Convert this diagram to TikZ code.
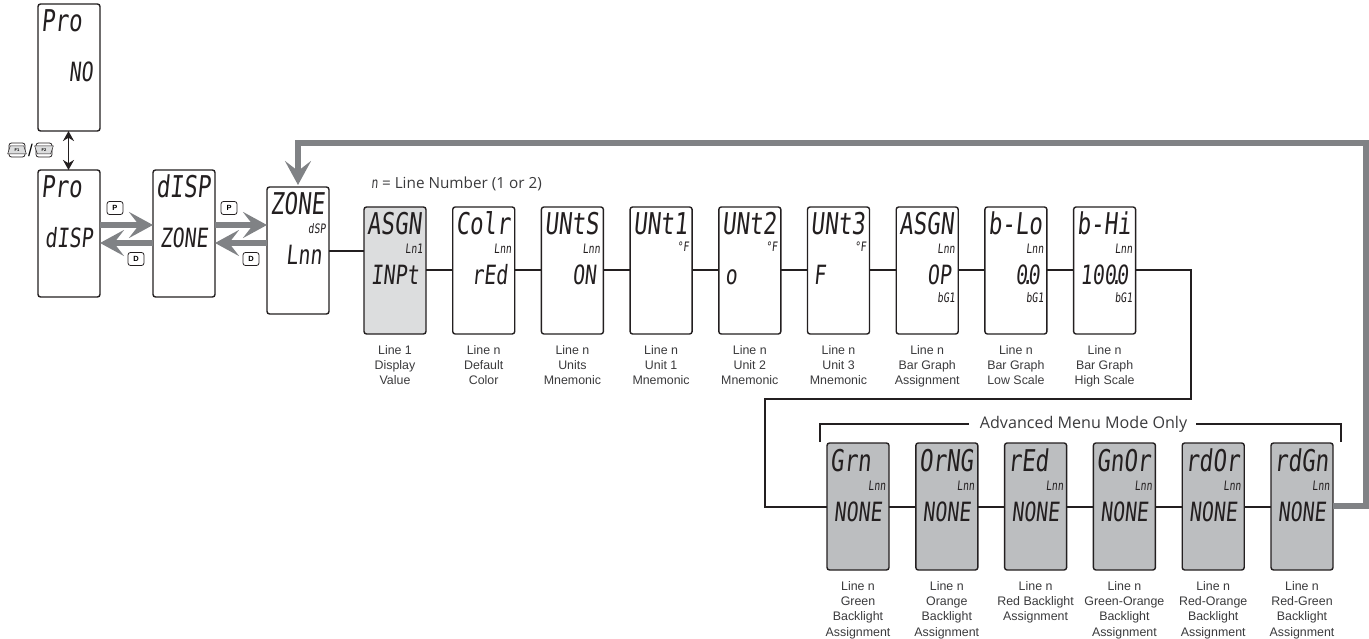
\documentclass[tikz,border=0pt]{standalone}
\usepackage{fontspec}
\setmainfont{Liberation Sans}
\newfontfamily\lcdfont[FakeSlant=0.1,FakeStretch=0.75]{DejaVu Sans Mono}
\newfontfamily\notefont{Open Sans}
\usetikzlibrary{shapes.geometric,arrows.meta,positioning,calc}
\definecolor{ShadeLight}{HTML}{DCDDDE}
\definecolor{ShadeDark}{HTML}{BCBEC0}
\definecolor{FlowGray}{HTML}{808285}
\definecolor{InkBlack}{HTML}{231F20}
\definecolor{CaptionGray}{HTML}{3A3A3C}
\newcommand{\dpt}{\kern-.22em.\kern-.22em}

\begin{document}
\begin{tikzpicture}[x=1pt,y=-1pt,
    panel/.style={draw=InkBlack, fill=white, line width=1.4pt, rounded corners=2.5pt, minimum width=62pt, minimum height=127pt, inner sep=0pt, outer sep=0pt},
    lcdtop/.style={anchor=base west, font=\lcdfont\fontsize{30}{30}\selectfont, text=InkBlack, inner sep=0pt, xshift=3pt, yshift=-28pt},
    lcdlow/.style={anchor=base east, font=\lcdfont\fontsize{26.5}{30}\selectfont, text=InkBlack, inner sep=0pt, xshift=-7pt, yshift=-78pt},
    lcdleft/.style={anchor=base west, font=\lcdfont\fontsize{26.5}{30}\selectfont, text=InkBlack, inner sep=0pt, xshift=6pt, yshift=-78pt},
    lcdtag/.style={anchor=base east, font=\lcdfont\fontsize{13}{13}\selectfont, text=InkBlack, inner sep=0pt, xshift=-3pt, yshift=-47pt},
    lcdbar/.style={anchor=base east, font=\lcdfont\fontsize{13}{13}\selectfont, text=InkBlack, inner sep=0pt, xshift=-3pt, yshift=-95pt},
    caption/.style={below=11.5pt, font=\fontsize{12.4}{15.2}\selectfont, text=CaptionGray, align=center, inner sep=0pt, outer sep=0pt},
    keycap/.style={draw=InkBlack, fill=white, line width=.8pt, rounded corners=2.5pt, minimum width=16pt, minimum height=13pt, inner sep=0pt, font=\bfseries\fontsize{7.5}{7.5}\selectfont},
    fkey/.style={draw=InkBlack, fill=white, line width=.8pt, rounded corners=2.5pt, minimum width=16pt, minimum height=14pt, inner sep=0pt},
    fshape/.style={trapezium, draw=InkBlack, fill=ShadeLight, line width=.5pt, trapezium left angle=72, trapezium right angle=72, minimum height=8pt, inner sep=0pt, font=\bfseries\fontsize{4}{4}\selectfont},
    wire/.style={draw=InkBlack, line width=1.3pt},
    flow/.style={draw=FlowGray, line width=6.5pt, -{Stealth[length=24pt,width=26pt,inset=10pt]}}
  ]
    \useasboundingbox (0,0) rectangle (1369,639);

    % Programming mode column
    \node[panel, anchor=north west] (pro) at (38,4) {};
    \node[lcdtop] (protop) at (pro.north west) {Pro};
    \node[lcdlow] (prolow) at (pro.north east) {NO};
    \node[panel, anchor=north west] (disp) at (38,170) {};
    \node[lcdtop] (disptop) at (disp.north west) {Pro};
    \node[lcdlow] (displow) at (disp.north east) {dISP};
    \node[panel, right=53pt of disp] (zone) {};
    \node[lcdtop] (zonetop) at (zone.north west) {dISP};
    \node[lcdlow] (zonelow) at (zone.north east) {ZONE};
    \node[panel, anchor=north west] (line) at (267,187) {};
    \node[lcdtop] (linetop) at (line.north west) {ZONE};
    \node[lcdtag] (linetag) at (line.north east) {dSP};
    \node[lcdlow] (linelow) at (line.north east) {Lnn};

    % Row 1: Line parameters
    \node[panel, fill=ShadeLight, anchor=north west] (r1) at (364,207) {};
    \node[panel, right=26.7pt of r1] (r2) {};
    \node[panel, right=26.7pt of r2] (r3) {};
    \node[panel, right=26.7pt of r3] (r4) {};
    \node[panel, right=26.7pt of r4] (r5) {};
    \node[panel, right=26.7pt of r5] (r6) {};
    \node[panel, right=26.7pt of r6] (r7) {};
    \node[panel, right=26.7pt of r7] (r8) {};
    \node[panel, right=26.7pt of r8] (r9) {};
    \foreach \p/\t in {r1/ASGN,r2/Colr,r3/UNtS,r4/UNt1,r5/UNt2,r6/UNt3,r7/ASGN,r8/b-Lo,r9/b-Hi}
      \node[lcdtop] (\p top) at (\p.north west) {\t};
    \foreach \p/\t in {r1/INPt,r2/rEd,r3/ON,r7/OP,r8/0\dpt 0,r9/100\dpt 0}
      \node[lcdlow] (\p low) at (\p.north east) {\t};
    \foreach \p/\t in {r1/Ln1,r2/Lnn,r3/Lnn,r7/Lnn,r8/Lnn,r9/Lnn}
      \node[lcdtag] (\p tag) at (\p.north east) {\t};
    \foreach \p in {r4,r5,r6}
      \node[lcdtag, yshift=2pt] (\p tag) at (\p.north east) {°F};
    \foreach \p in {r7,r8,r9}
      \node[lcdbar] (\p bar) at (\p.north east) {bG1};
    \node[lcdleft] (r5low) at (r5.north west) {o};
    \node[lcdleft] (r6low) at (r6.north west) {F};

    % Row 2: Backlight assignments
    \node[panel, fill=ShadeDark, anchor=north west] (b1) at (827,443) {};
    \node[panel, fill=ShadeDark, right=26.8pt of b1] (b2) {};
    \node[panel, fill=ShadeDark, right=26.8pt of b2] (b3) {};
    \node[panel, fill=ShadeDark, right=26.8pt of b3] (b4) {};
    \node[panel, fill=ShadeDark, right=26.8pt of b4] (b5) {};
    \node[panel, fill=ShadeDark, right=26.8pt of b5] (b6) {};
    \foreach \p/\t in {b1/Grn,b2/OrNG,b3/rEd,b4/GnOr,b5/rdOr,b6/rdGn} {
      \node[lcdtop] (\p top) at (\p.north west) {\t};
      \node[lcdtag] (\p tag) at (\p.north east) {Lnn};
      \node[lcdlow] (\p low) at (\p.north east) {NONE};
    }

    % Captions
    \node[caption] (c1) at (r1.south) {Line 1\\Display\\Value};
    \node[caption] (c2) at (r2.south) {Line n\\Default\\Color};
    \node[caption] (c3) at (r3.south) {Line n\\Units\\Mnemonic};
    \node[caption] (c4) at (r4.south) {Line n\\Unit 1\\Mnemonic};
    \node[caption] (c5) at (r5.south) {Line n\\Unit 2\\Mnemonic};
    \node[caption] (c6) at (r6.south) {Line n\\Unit 3\\Mnemonic};
    \node[caption] (c7) at (r7.south) {Line n\\Bar Graph\\Assignment};
    \node[caption] (c8) at (r8.south) {Line n\\Bar Graph\\Low Scale};
    \node[caption] (c9) at (r9.south) {Line n\\Bar Graph\\High Scale};
    \node[caption] (d1) at (b1.south) {Line n\\Green\\Backlight\\Assignment};
    \node[caption] (d2) at (b2.south) {Line n\\Orange\\Backlight\\Assignment};
    \node[caption] (d3) at (b3.south) {Line n\\Red Backlight\\Assignment};
    \node[caption] (d4) at (b4.south) {Line n\\Green-Orange\\Backlight\\Assignment};
    \node[caption] (d5) at (b5.south) {Line n\\Red-Orange\\Backlight\\Assignment};
    \node[caption] (d6) at (b6.south) {Line n\\Red-Green\\Backlight\\Assignment};

    % Notes
    \node[anchor=base west, inner sep=0pt, text=CaptionGray, font=\notefont\fontsize{15.3}{16}\selectfont] (numnote) at (371,189) {{\lcdfont n} = Line Number (1 or 2)};
    \node[inner sep=0pt, text=CaptionGray, font=\notefont\fontsize{16.1}{17}\selectfont] (advnote) at (1083.5,424) {Advanced Menu Mode Only};
    \coordinate (advl) at (820,442);
    \coordinate (advr) at (1341,442);
    \draw[wire] (advl) |- ([xshift=-11pt]advnote.west);
    \draw[wire] (advr) |- ([xshift=9pt]advnote.east);

    % Key symbols
    \node[fkey] (f1) at (17,150) {};
    \node[fshape] (f1s) at (f1.center) {F1};
    \node[fkey] (f2) at (44,150) {};
    \node[fshape, shape border rotate=180] (f2s) at (f2.center) {F2};
    \node[inner sep=0pt, font=\fontsize{17}{17}\selectfont] (fslash) at (30.5,150) {/};
    \node[keycap] (p1) at (115,208) {P};
    \node[keycap] (d1key) at (136,259) {D};
    \node[keycap] (p2) at (229,208) {P};
    \node[keycap] (d2key) at (251,259) {D};

    % Connectors
    \draw[wire, line width=1.7pt, {Stealth[length=10pt,width=11pt]}-{Stealth[length=10pt,width=11pt]}] (pro.south -| 68.5,0) -- (disp.north -| 68.5,0);
    \draw[wire] (line.east |- 0,251) -- (r1.west |- 0,251);
    \foreach \a/\b in {r1/r2,r2/r3,r3/r4,r4/r5,r5/r6,r6/r7,r7/r8,r8/r9}
      \draw[wire] (\a.east |- 0,270) -- (\b.west |- 0,270);
    \foreach \a/\b in {b1/b2,b2/b3,b3/b4,b4/b5,b5/b6}
      \draw[wire] (\a.east |- 0,507) -- (\b.west |- 0,507);
    \coordinate (wrapa) at (1191,270);
    \coordinate (wrapb) at (765,399);
    \draw[wire, line join=miter] (r9.east |- 0,270) -- (wrapa) |- (wrapb) |- (b1.west |- 0,507);
    \draw[flow] (disp.east |- 0,225) -- (zone.west |- 0,225);
    \draw[flow] (zone.west |- 0,243) -- (disp.east |- 0,243);
    \draw[flow] (zone.east |- 0,225) -- (line.west |- 0,225);
    \draw[flow] (line.west |- 0,243) -- (zone.east |- 0,243);
    \coordinate (backa) at (1366,143);
    \draw[flow, line join=miter] (b6.east |- 0,506) -| (backa) -| ([yshift=2pt]line.north -| 298,0);

  \end{tikzpicture}
\end{document}
